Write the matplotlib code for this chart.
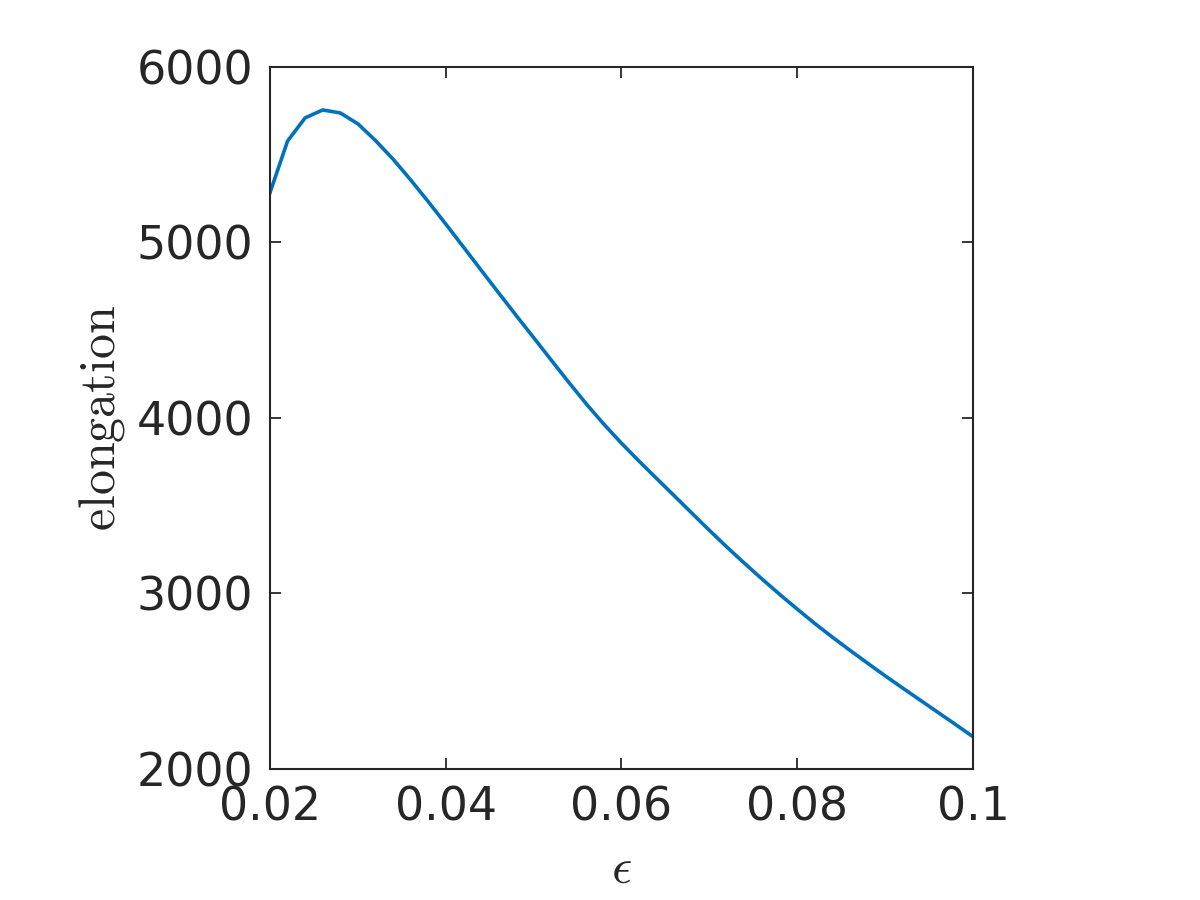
import numpy as np
import matplotlib
matplotlib.use('Agg')
import matplotlib.pyplot as plt

# data
eps = [0.020, 0.022, 0.024, 0.026, 0.028, 0.030, 0.032, 0.034, 0.036, 0.038,
       0.040, 0.042, 0.044, 0.046, 0.048, 0.050, 0.052, 0.054, 0.056, 0.058,
       0.060, 0.062, 0.064, 0.066, 0.068, 0.070, 0.072, 0.074, 0.076, 0.078,
       0.080, 0.082, 0.084, 0.086, 0.088, 0.090, 0.092, 0.094, 0.096, 0.098,
       0.100]
elong = [5284, 5578, 5710, 5755, 5738, 5676, 5581, 5475, 5357, 5233,
         5105, 4975, 4844, 4714, 4585, 4458, 4330, 4203, 4080, 3964,
         3856, 3754, 3655, 3557, 3458, 3360, 3264, 3172, 3082, 2995,
         2911, 2829, 2751, 2676, 2603, 2531, 2461, 2392, 2323, 2254,
         2184]
xticks = [0.02, 0.04, 0.06, 0.08, 0.1]
xticklabels = ['0.02', '0.04', '0.06', '0.08', '0.1']
yticks = [2000, 3000, 4000, 5000, 6000]

plt.rcParams['mathtext.fontset'] = 'cm'
dark = '#262626'

fig = plt.figure(figsize=(12, 9), dpi=100)
ax = fig.add_axes([0.225, 0.1456, 0.5858, 0.78])
ax.plot(eps, elong, color='#0072BD', lw=2.6)

ax.set_xlim(0.02, 0.1)
ax.set_ylim(2000, 6000)
ax.set_xticks(xticks)
ax.set_xticklabels(xticklabels)
ax.set_yticks(yticks)
ax.tick_params(direction='in', top=True, right=True, length=8, width=1.3,
               colors=dark, labelsize=33)
ax.tick_params(axis='x', pad=12)
ax.tick_params(axis='y', pad=12)
for s in ax.spines.values():
    s.set_linewidth(1.5)
    s.set_color(dark)

ax.set_ylabel(r'$\mathrm{elongation}$', fontsize=36, color=dark, labelpad=7)
ax.set_xlabel(r'$\epsilon$', fontsize=36, color=dark, labelpad=10)

fig.savefig('out.png', dpi=100, facecolor='white')
